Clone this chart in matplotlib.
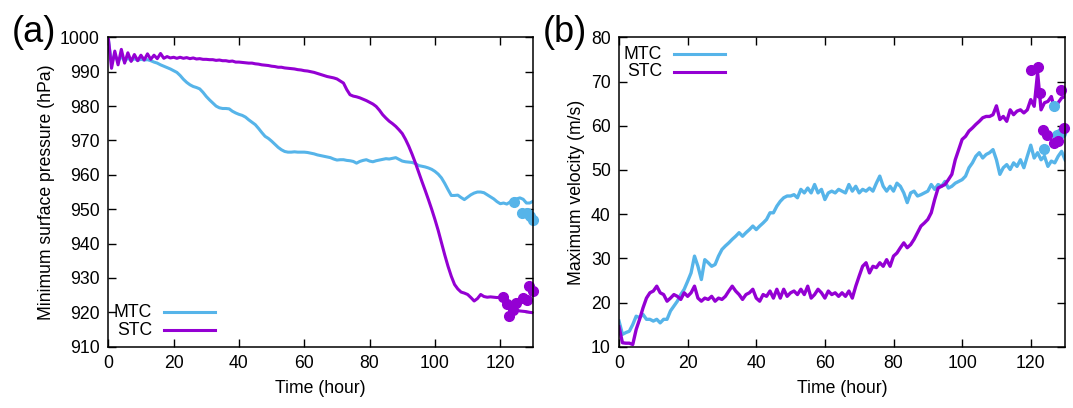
import numpy as np
import matplotlib
matplotlib.use("Agg")
import matplotlib.pyplot as plt
from matplotlib.lines import Line2D

plt.rcParams['font.family'] = ['Liberation Sans', 'DejaVu Sans']
plt.rcParams['font.size'] = 12.7

# hourly model output, hours 0..130
hours = np.arange(0, 131)

mtc_pres = [999.5, 992.5, 995, 993, 994.5, 993, 994, 993.2, 993.8, 993.3,
            993.6, 993.4, 993.5, 993.2, 992.8, 992.5, 992, 991.6, 991.2, 990.8,
            990.3, 989.8, 988.9, 987.8, 986.9, 986.2, 985.7, 985.4, 985, 984,
            982.8, 981.8, 980.9, 980, 979.5, 979.3, 979.3, 979.2, 978.5, 978,
            977.6, 977.3, 976.8, 976, 975.3, 974.6, 973.5, 972.3, 971.2, 970.6,
            969.8, 968.9, 968, 967.3, 966.8, 966.6, 966.6, 966.7, 966.6, 966.6,
            966.6, 966.5, 966.3, 966.1, 965.8, 965.6, 965.4, 965.2, 965, 964.6,
            964.3, 964.4, 964.4, 964.2, 964.1, 963.9, 963.4, 963.9, 964.2, 964.4,
            964, 963.8, 964.1, 964.3, 964.5, 964.7, 964.6, 964.8, 965, 964.5,
            964, 963.8, 963.7, 963.6, 963.3, 962.7, 962.5, 962.3, 962, 961.6,
            961, 960.2, 959.1, 957.5, 955.7, 954, 954, 954.1, 953.4, 952.8,
            953.5, 954.2, 954.7, 955, 955, 954.8, 954.2, 953.6, 953, 952.2,
            951.6, 951.8, 951.5, 952.1, 952.6, 953, 953.3, 952.9, 951.8, 951.8,
            952.3]

stc_pres = [1000, 991, 996, 992, 996.5, 992.5, 995.5, 993, 995, 993.2,
            994.8, 993.4, 995.2, 993.6, 994.8, 993.8, 995.3, 993.9, 994.4, 994,
            994.2, 993.9, 994.2, 993.9, 994.1, 993.8, 994, 993.7, 993.8, 993.6,
            993.6, 993.5, 993.5, 993.3, 993.4, 993.2, 993.2, 993, 993.1, 992.8,
            992.8, 992.7, 992.6, 992.5, 992.5, 992.3, 992.2, 992, 991.9, 991.8,
            991.6, 991.5, 991.3, 991.3, 991.1, 991, 990.9, 990.8, 990.6, 990.5,
            990.3, 990.2, 990, 989.8, 989.5, 989.2, 988.9, 988.6, 988.4, 988.2,
            987.9, 987.3, 986.7, 984.8, 983.3, 982.9, 982.7, 982.4, 982, 981.6,
            981.1, 980.6, 979.9, 978.8, 977.5, 976.5, 975.6, 974.9, 974.1, 973.1,
            972, 970.3, 968.3, 966, 963.5, 960.8, 958.1, 955.5, 952.8, 950,
            947, 943.8, 940.2, 936.7, 933.4, 930.5, 928.1, 926.8, 925.9, 925.6,
            925.2, 924.3, 923.3, 924, 925.2, 924.6, 924.4, 924.5, 924.4, 924.3,
            924.4, 924, 922.8, 921.8, 921, 920.6, 920.4, 920.3, 920.2, 920,
            919.9]

mtc_vel = [15.8, 12.8, 13.2, 13.5, 15, 16.9, 16.6, 17.3, 16.2, 16.2,
           15.8, 16.2, 15.4, 16.2, 16.2, 18.1, 19.2, 20.3, 21.8, 23,
           24.8, 26.7, 30.5, 28.2, 25.2, 29.7, 29, 28.2, 28.6, 30.5,
           32, 32.8, 33.5, 34.3, 35, 35.8, 35, 35.8, 36.5, 37.3,
           36.5, 37.3, 38, 38.8, 40.3, 40.3, 41.8, 42.9, 43.7, 44.1,
           44.1, 44.4, 43.7, 45.6, 44.8, 45.9, 44.8, 46.7, 44.8, 45.6,
           43.3, 44.8, 45.2, 44.8, 45.6, 45.2, 44.8, 46.7, 45.2, 46.3,
           44.8, 45.6, 45.2, 45.9, 45.2, 47, 48.6, 46.3, 45.2, 46.3,
           45.2, 47, 46.3, 44.8, 42.6, 44.8, 45.2, 44.1, 44.4, 44.8,
           45.2, 46.7, 45.6, 46.7, 46.3, 47.4, 45.9, 46.3, 47, 47.4,
           47.8, 48.6, 50.5, 51.6, 53.1, 53.9, 52.7, 53.5, 53.9, 54.6,
           52.3, 49, 50.5, 51.2, 50.1, 51.6, 50.8, 52.3, 50.5, 53.1,
           55.6, 52.7, 53.9, 52.3, 53.1, 50.8, 52, 51.6, 53.1, 54.2,
           52.3]

stc_vel = [14.5, 10.9, 10.8, 10.8, 10.5, 13.9, 16.2, 18.8, 21, 22.2,
           22.6, 23.7, 22.2, 21.8, 20.3, 21, 21.8, 21.4, 20.7, 22.2,
           21.4, 22.2, 23.7, 21, 20.3, 21, 20.7, 21.4, 20.3, 21,
           20.7, 21.4, 22.6, 23.7, 22.6, 21.8, 20.7, 21.8, 22.2, 23,
           21, 20.3, 21.8, 21.4, 22.6, 21, 23, 21, 23, 21.4,
           22.2, 22.6, 21.8, 23, 21.8, 23.7, 21, 21.8, 23, 22.2,
           21, 22.6, 21.8, 22.2, 21.4, 22.2, 21.4, 22.6, 21, 23.7,
           26, 28.2, 29, 26.7, 28.2, 27.9, 29, 28.2, 29.7, 28.2,
           30.5, 31.2, 32.4, 33.5, 32.4, 33.1, 34.3, 35.8, 37.3, 38,
           38.8, 40.3, 43.3, 45.9, 46.3, 46.7, 47.8, 49, 52.3, 54.6,
           56.9, 57.6, 58.8, 59.5, 60.3, 61, 61.8, 62.1, 62.1, 62.5,
           64.5, 61.4, 62.1, 61, 63.6, 62.5, 63.3, 63.6, 62.9, 63.6,
           65.9, 64.4, 72, 63.6, 65.2, 65.5, 66.6, 63.6, 65.2, 66.3,
           66.6]

# scattered points near the end of the period
mtc_pres_pt_t = [124.1, 126.7, 128.1, 129.1, 130]
mtc_pres_pt = [952.1, 948.9, 948.9, 948, 946.8]
stc_pres_pt_t = [120.9, 122, 122.8, 123.9, 124.9, 127, 128.1, 128.8, 130]
stc_pres_pt = [924.4, 922.5, 918.9, 920.8, 922.8, 924.2, 923.7, 927.6, 926.2]

mtc_vel_pt_t = [123.8, 126.7, 127.7, 128.7]
mtc_vel_pt = [54.8, 64.4, 58, 58.4]
stc_vel_pt_t = [120, 122, 122.8, 123.7, 124.8, 126.7, 127.9, 128.7, 129.7]
stc_vel_pt = [72.7, 73.4, 67.4, 59.1, 58, 56.1, 56.5, 68, 59.5]

c_mtc = '#56b4e9'
c_stc = '#9400d3'

fig = plt.figure(figsize=(10.73, 4.08), dpi=100)
ax1 = fig.add_axes([0.1009, 0.1502, 0.3958, 0.7583])
ax2 = fig.add_axes([0.5769, 0.1502, 0.4157, 0.7583])


def style(ax):
    ax.tick_params(direction='in', length=6, width=1, top=True, right=True,
                   labelsize=12.7, pad=6)
    for s in ax.spines.values():
        s.set_linewidth(1.1)
    ax.set_xlim(0, 130)
    ax.set_xticks([0, 20, 40, 60, 80, 100, 120])
    ax.set_xlabel('Time (hour)', labelpad=6)


def key(ax, x_text, x0, x1, y, label, color):
    ax.text(x_text, y, label, transform=ax.transAxes, ha='right', va='center')
    ax.add_line(Line2D([x0, x1], [y, y], transform=ax.transAxes,
                       color=color, lw=2.2))


# (a) pressure
ax1.plot(hours, mtc_pres, color=c_mtc, lw=2.2)
ax1.plot(hours, stc_pres, color=c_stc, lw=2.2)
ax1.plot(mtc_pres_pt_t, mtc_pres_pt, 'o', color=c_mtc, ms=7, clip_on=False)
ax1.plot(stc_pres_pt_t, stc_pres_pt, 'o', color=c_stc, ms=7, clip_on=False)
style(ax1)
ax1.set_ylim(910, 1000)
ax1.set_yticks(np.arange(910, 1001, 10))
ax1.set_ylabel('Minimum surface pressure (hPa)')
key(ax1, 0.103, 0.131, 0.251, 0.112, 'MTC', c_mtc)
key(ax1, 0.103, 0.131, 0.251, 0.054, 'STC', c_stc)
fig.text(0.011, 0.92, '(a)', fontsize=26, va='center')

# (b) velocity
ax2.plot(hours, mtc_vel, color=c_mtc, lw=2.4)
ax2.plot(hours, stc_vel, color=c_stc, lw=2.4)
ax2.plot(mtc_vel_pt_t, mtc_vel_pt, 'o', color=c_mtc, ms=7, clip_on=False)
ax2.plot(stc_vel_pt_t, stc_vel_pt, 'o', color=c_stc, ms=7, clip_on=False)
style(ax2)
ax2.set_ylim(10, 80)
ax2.set_yticks(np.arange(10, 81, 10))
ax2.set_ylabel('Maximum velocity (m/s)')
key(ax2, 0.096, 0.123, 0.238, 0.946, 'MTC', c_mtc)
key(ax2, 0.096, 0.123, 0.238, 0.888, 'STC', c_stc)
fig.text(0.506, 0.92, '(b)', fontsize=26, va='center')

fig.savefig('out.png', dpi=100)
